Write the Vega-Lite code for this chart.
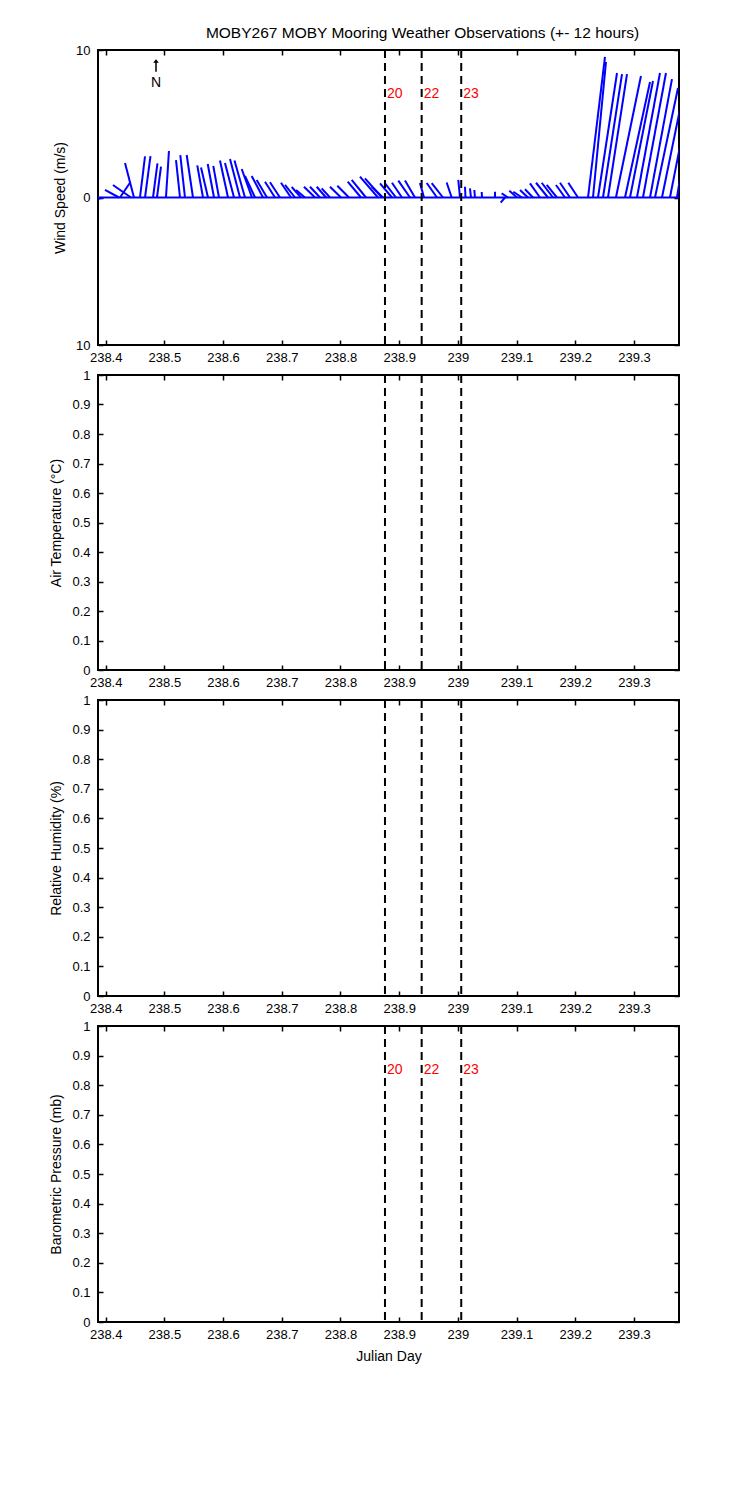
{
  "$schema": "https://vega.github.io/schema/vega-lite/v6.json",
  "padding": {"left": 48, "top": 25, "right": 10, "bottom": 10},
  "title": {"text": "MOBY267 MOBY Mooring Weather Observations (+- 12 hours)", "anchor": "middle", "frame": "group", "dx": 34, "offset": 2, "fontSize": 15.5},
  "config": {
    "font": "Liberation Sans",
    "view": {"stroke": "black", "strokeWidth": 2},
    "axis": {"grid": false, "domain": false, "tickColor": "black", "tickWidth": 1.5, "tickSize": -5, "labelColor": "black", "labelFont": "Liberation Sans", "labelFontSize": 13, "titleFont": "Liberation Sans", "titleFontSize": 14, "titleFontWeight": "normal", "titleColor": "black", "labelFlush": false, "labelOverlap": false},
    "axisX": {"labelPadding": 11, "titlePadding": 8},
    "axisY": {"labelPadding": 13, "titlePadding": 8},
    "title": {"font": "Liberation Sans", "fontSize": 14, "fontWeight": "normal", "color": "black"}
  },
  "datasets": {
    "annot": [{"label": "N"}],
    "events": [
      {"t": 238.8758, "label": "20"},
      {"t": 238.9383, "label": "22"},
      {"t": 239.0057, "label": "23"}
    ],
    "wind": [
      {"t": 238.3937, "t2": 238.3886, "v": -0.10},
      {"t": 238.4227, "t2": 238.3988, "v": 0.51},
      {"t": 238.4244, "t2": 238.4414, "v": 1.00},
      {"t": 238.4431, "t2": 238.4124, "v": 0.85},
      {"t": 238.4482, "t2": 238.4329, "v": 2.34},
      {"t": 238.4584, "t2": 238.4670, "v": 2.78},
      {"t": 238.4670, "t2": 238.4763, "v": 2.81},
      {"t": 238.4806, "t2": 238.4882, "v": 2.32},
      {"t": 238.4874, "t2": 238.4942, "v": 2.09},
      {"t": 238.5027, "t2": 238.5078, "v": 3.15},
      {"t": 238.5266, "t2": 238.5198, "v": 2.54},
      {"t": 238.5351, "t2": 238.5271, "v": 2.88},
      {"t": 238.5487, "t2": 238.5380, "v": 2.88},
      {"t": 238.5658, "t2": 238.5560, "v": 2.18},
      {"t": 238.5743, "t2": 238.5624, "v": 2.03},
      {"t": 238.5845, "t2": 238.5738, "v": 2.27},
      {"t": 238.5930, "t2": 238.5833, "v": 2.14},
      {"t": 238.6084, "t2": 238.5947, "v": 2.51},
      {"t": 238.6186, "t2": 238.6032, "v": 2.34},
      {"t": 238.6288, "t2": 238.6118, "v": 2.61},
      {"t": 238.6373, "t2": 238.6194, "v": 2.51},
      {"t": 238.6492, "t2": 238.6317, "v": 1.93},
      {"t": 238.6544, "t2": 238.6373, "v": 1.46},
      {"t": 238.6680, "t2": 238.6487, "v": 1.46},
      {"t": 238.6748, "t2": 238.6572, "v": 1.19},
      {"t": 238.6884, "t2": 238.6714, "v": 1.07},
      {"t": 238.6969, "t2": 238.6799, "v": 1.03},
      {"t": 238.7157, "t2": 238.6986, "v": 1.00},
      {"t": 238.7225, "t2": 238.7055, "v": 0.85},
      {"t": 238.7327, "t2": 238.7169, "v": 0.71},
      {"t": 238.7395, "t2": 238.7242, "v": 0.51},
      {"t": 238.7566, "t2": 238.7378, "v": 0.73},
      {"t": 238.7651, "t2": 238.7480, "v": 0.73},
      {"t": 238.7753, "t2": 238.7595, "v": 0.73},
      {"t": 238.7821, "t2": 238.7680, "v": 0.62},
      {"t": 238.8009, "t2": 238.7821, "v": 0.73},
      {"t": 238.8145, "t2": 238.7946, "v": 0.80},
      {"t": 238.8349, "t2": 238.8123, "v": 1.07},
      {"t": 238.8434, "t2": 238.8191, "v": 1.19},
      {"t": 238.8639, "t2": 238.8332, "v": 1.41},
      {"t": 238.8707, "t2": 238.8417, "v": 1.30},
      {"t": 238.8724, "t2": 238.8532, "v": 0.73},
      {"t": 238.8877, "t2": 238.8673, "v": 0.96},
      {"t": 238.8946, "t2": 238.8758, "v": 0.96},
      {"t": 238.9048, "t2": 238.8877, "v": 1.00},
      {"t": 238.9184, "t2": 238.8985, "v": 1.14},
      {"t": 238.9269, "t2": 238.9099, "v": 1.15},
      {"t": 238.9423, "t2": 238.9354, "v": 0.98},
      {"t": 238.9644, "t2": 238.9469, "v": 0.98},
      {"t": 238.9746, "t2": 238.9554, "v": 0.98},
      {"t": 238.9894, "t2": 238.9809, "v": 1.02},
      {"t": 239.0036, "t2": 239.0007, "v": 1.19},
      {"t": 239.0130, "t2": 239.0121, "v": 0.73},
      {"t": 239.0223, "t2": 239.0206, "v": 0.62},
      {"t": 239.0291, "t2": 239.0280, "v": 0.51},
      {"t": 239.0411, "t2": 239.0406, "v": 0.37},
      {"t": 239.0632, "t2": 239.0632, "v": 0.39},
      {"t": 239.0803, "t2": 239.0729, "v": -0.35},
      {"t": 239.0854, "t2": 239.0746, "v": 0.28},
      {"t": 239.1007, "t2": 239.0876, "v": 0.46},
      {"t": 239.1092, "t2": 239.0944, "v": 0.39},
      {"t": 239.1194, "t2": 239.1058, "v": 0.51},
      {"t": 239.1280, "t2": 239.1143, "v": 0.56},
      {"t": 239.1399, "t2": 239.1228, "v": 0.96},
      {"t": 239.1535, "t2": 239.1331, "v": 1.00},
      {"t": 239.1620, "t2": 239.1428, "v": 1.00},
      {"t": 239.1688, "t2": 239.1513, "v": 0.85},
      {"t": 239.1825, "t2": 239.1671, "v": 0.85},
      {"t": 239.1910, "t2": 239.1740, "v": 1.00},
      {"t": 239.2046, "t2": 239.1881, "v": 1.00},
      {"t": 239.2217, "t2": 239.2506, "v": 9.53},
      {"t": 239.2302, "t2": 239.2523, "v": 9.19},
      {"t": 239.2387, "t2": 239.2711, "v": 8.44},
      {"t": 239.2472, "t2": 239.2796, "v": 8.37},
      {"t": 239.2557, "t2": 239.2881, "v": 8.37},
      {"t": 239.2693, "t2": 239.3119, "v": 8.24},
      {"t": 239.2847, "t2": 239.3273, "v": 7.83},
      {"t": 239.2932, "t2": 239.3324, "v": 7.90},
      {"t": 239.3051, "t2": 239.3443, "v": 8.44},
      {"t": 239.3153, "t2": 239.3545, "v": 8.44},
      {"t": 239.3273, "t2": 239.3647, "v": 8.03},
      {"t": 239.3358, "t2": 239.3750, "v": 7.42},
      {"t": 239.3477, "t2": 239.3954, "v": 9.32},
      {"t": 239.3613, "t2": 239.4039, "v": 8.64},
      {"t": 239.3733, "t2": 239.3801, "v": 1.73}
    ]
  },
  "spacing": 30,
  "bounds": "flush",
  "vconcat": [
    {
      "width": 581, "height": 295,
      "resolve": {"axis": {"x": "independent", "y": "independent"}},
      "layer": [
        {
          "data": {"name": "annot"},
          "mark": {"type": "point", "opacity": 0},
          "encoding": {
            "x": {"datum": 238.4, "type": "quantitative", "scale": {"domain": [238.3869, 239.3767], "nice": false, "zero": false}, "axis": {"orient": "bottom", "values": [238.4, 238.5, 238.6, 238.7, 238.8, 238.9, 239.0, 239.1, 239.2, 239.3], "format": ".1~f", "title": null}},
            "y": {"datum": 0, "type": "quantitative", "scale": {"domain": [-10, 10], "nice": false, "zero": false}, "axis": {"orient": "left", "values": [-10, 0, 10], "labelExpr": "'' + abs(datum.value)", "title": "Wind Speed (m/s)"}}
          }
        },
        {
          "data": {"name": "annot"},
          "mark": {"type": "point", "opacity": 0},
          "encoding": {
            "x": {"datum": 238.4, "type": "quantitative", "axis": {"orient": "top", "values": [238.4, 238.5, 238.6, 238.7, 238.8, 238.9, 239.0, 239.1, 239.2, 239.3], "labels": false, "title": null}},
            "y": {"datum": 0, "type": "quantitative", "axis": {"orient": "right", "values": [-10, 0, 10], "labels": false, "title": null}}
          }
        },
        {
          "data": {"name": "annot"},
          "mark": {"type": "rule", "color": "#0000ff", "strokeWidth": 2},
          "encoding": {"y": {"datum": 0, "type": "quantitative", "axis": null}}
        },
        {
          "data": {"name": "wind"},
          "mark": {"type": "rule", "color": "#0000ff", "strokeWidth": 2, "clip": true},
          "encoding": {
            "x": {"field": "t2", "type": "quantitative", "axis": null},
            "x2": {"field": "t"},
            "y": {"field": "v", "type": "quantitative", "axis": null},
            "y2": {"datum": 0}
          }
        },
        {
          "data": {"name": "events"},
          "mark": {"type": "rule", "color": "black", "strokeWidth": 2, "strokeDash": [8, 5]},
          "encoding": {"x": {"field": "t", "type": "quantitative", "axis": null}}
        },
        {
          "data": {"name": "events"},
          "mark": {"type": "text", "color": "#ff0000", "fontSize": 14, "align": "left", "dx": 2, "baseline": "middle"},
          "encoding": {
            "x": {"field": "t", "type": "quantitative", "axis": null},
            "y": {"datum": 7.0, "type": "quantitative", "axis": null},
            "text": {"field": "label", "type": "nominal"}
          }
        },
        {
          "data": {"name": "annot"},
          "mark": {"type": "point", "shape": "M0,-1L0.45,-0.45L0.12,-0.45L0.12,1L-0.12,1L-0.12,-0.45L-0.45,-0.45Z", "filled": true, "color": "black", "size": 160, "opacity": 1},
          "encoding": {
            "x": {"datum": 238.4857, "type": "quantitative", "axis": null},
            "y": {"datum": 8.95, "type": "quantitative", "axis": null}
          }
        },
        {
          "data": {"name": "annot"},
          "mark": {"type": "text", "color": "black", "fontSize": 14, "baseline": "middle"},
          "encoding": {
            "x": {"datum": 238.4857, "type": "quantitative", "axis": null},
            "y": {"datum": 7.76, "type": "quantitative", "axis": null},
            "text": {"field": "label", "type": "nominal"}
          }
        }
      ]
    },
    {
      "width": 581, "height": 295,
      "resolve": {"axis": {"x": "independent", "y": "independent"}},
      "layer": [
        {
          "data": {"name": "annot"},
          "mark": {"type": "point", "opacity": 0},
          "encoding": {
            "x": {"datum": 238.4, "type": "quantitative", "scale": {"domain": [238.3869, 239.3767], "nice": false, "zero": false}, "axis": {"orient": "bottom", "values": [238.4, 238.5, 238.6, 238.7, 238.8, 238.9, 239.0, 239.1, 239.2, 239.3], "format": ".1~f", "title": null}},
            "y": {"datum": 0, "type": "quantitative", "scale": {"domain": [0, 1], "nice": false, "zero": false}, "axis": {"orient": "left", "values": [0, 0.1, 0.2, 0.3, 0.4, 0.5, 0.6, 0.7, 0.8, 0.9, 1], "format": ".1~f", "title": "Air Temperature (°C)"}}
          }
        },
        {
          "data": {"name": "annot"},
          "mark": {"type": "point", "opacity": 0},
          "encoding": {
            "x": {"datum": 238.4, "type": "quantitative", "axis": {"orient": "top", "values": [238.4, 238.5, 238.6, 238.7, 238.8, 238.9, 239.0, 239.1, 239.2, 239.3], "labels": false, "title": null}},
            "y": {"datum": 0, "type": "quantitative", "axis": {"orient": "right", "values": [0, 0.1, 0.2, 0.3, 0.4, 0.5, 0.6, 0.7, 0.8, 0.9, 1], "labels": false, "title": null}}
          }
        },
        {
          "data": {"name": "events"},
          "mark": {"type": "rule", "color": "black", "strokeWidth": 2, "strokeDash": [8, 5]},
          "encoding": {"x": {"field": "t", "type": "quantitative", "axis": null}}
        }
      ]
    },
    {
      "width": 581, "height": 296,
      "resolve": {"axis": {"x": "independent", "y": "independent"}},
      "layer": [
        {
          "data": {"name": "annot"},
          "mark": {"type": "point", "opacity": 0},
          "encoding": {
            "x": {"datum": 238.4, "type": "quantitative", "scale": {"domain": [238.3869, 239.3767], "nice": false, "zero": false}, "axis": {"orient": "bottom", "values": [238.4, 238.5, 238.6, 238.7, 238.8, 238.9, 239.0, 239.1, 239.2, 239.3], "format": ".1~f", "title": null}},
            "y": {"datum": 0, "type": "quantitative", "scale": {"domain": [0, 1], "nice": false, "zero": false}, "axis": {"orient": "left", "values": [0, 0.1, 0.2, 0.3, 0.4, 0.5, 0.6, 0.7, 0.8, 0.9, 1], "format": ".1~f", "title": "Relative Humidity (%)"}}
          }
        },
        {
          "data": {"name": "annot"},
          "mark": {"type": "point", "opacity": 0},
          "encoding": {
            "x": {"datum": 238.4, "type": "quantitative", "axis": {"orient": "top", "values": [238.4, 238.5, 238.6, 238.7, 238.8, 238.9, 239.0, 239.1, 239.2, 239.3], "labels": false, "title": null}},
            "y": {"datum": 0, "type": "quantitative", "axis": {"orient": "right", "values": [0, 0.1, 0.2, 0.3, 0.4, 0.5, 0.6, 0.7, 0.8, 0.9, 1], "labels": false, "title": null}}
          }
        },
        {
          "data": {"name": "events"},
          "mark": {"type": "rule", "color": "black", "strokeWidth": 2, "strokeDash": [8, 5]},
          "encoding": {"x": {"field": "t", "type": "quantitative", "axis": null}}
        }
      ]
    },
    {
      "width": 581, "height": 296,
      "resolve": {"axis": {"x": "independent", "y": "independent"}},
      "layer": [
        {
          "data": {"name": "annot"},
          "mark": {"type": "point", "opacity": 0},
          "encoding": {
            "x": {"datum": 238.4, "type": "quantitative", "scale": {"domain": [238.3869, 239.3767], "nice": false, "zero": false}, "axis": {"orient": "bottom", "values": [238.4, 238.5, 238.6, 238.7, 238.8, 238.9, 239.0, 239.1, 239.2, 239.3], "format": ".1~f", "title": "Julian Day"}},
            "y": {"datum": 0, "type": "quantitative", "scale": {"domain": [0, 1], "nice": false, "zero": false}, "axis": {"orient": "left", "values": [0, 0.1, 0.2, 0.3, 0.4, 0.5, 0.6, 0.7, 0.8, 0.9, 1], "format": ".1~f", "title": "Barometric Pressure (mb)"}}
          }
        },
        {
          "data": {"name": "annot"},
          "mark": {"type": "point", "opacity": 0},
          "encoding": {
            "x": {"datum": 238.4, "type": "quantitative", "axis": {"orient": "top", "values": [238.4, 238.5, 238.6, 238.7, 238.8, 238.9, 239.0, 239.1, 239.2, 239.3], "labels": false, "title": null}},
            "y": {"datum": 0, "type": "quantitative", "axis": {"orient": "right", "values": [0, 0.1, 0.2, 0.3, 0.4, 0.5, 0.6, 0.7, 0.8, 0.9, 1], "labels": false, "title": null}}
          }
        },
        {
          "data": {"name": "events"},
          "mark": {"type": "rule", "color": "black", "strokeWidth": 2, "strokeDash": [8, 5]},
          "encoding": {"x": {"field": "t", "type": "quantitative", "axis": null}}
        },
        {
          "data": {"name": "events"},
          "mark": {"type": "text", "color": "#ff0000", "fontSize": 14, "align": "left", "dx": 2, "baseline": "middle"},
          "encoding": {
            "x": {"field": "t", "type": "quantitative", "axis": null},
            "y": {"datum": 0.85, "type": "quantitative", "axis": null},
            "text": {"field": "label", "type": "nominal"}
          }
        }
      ]
    }
  ]
}
